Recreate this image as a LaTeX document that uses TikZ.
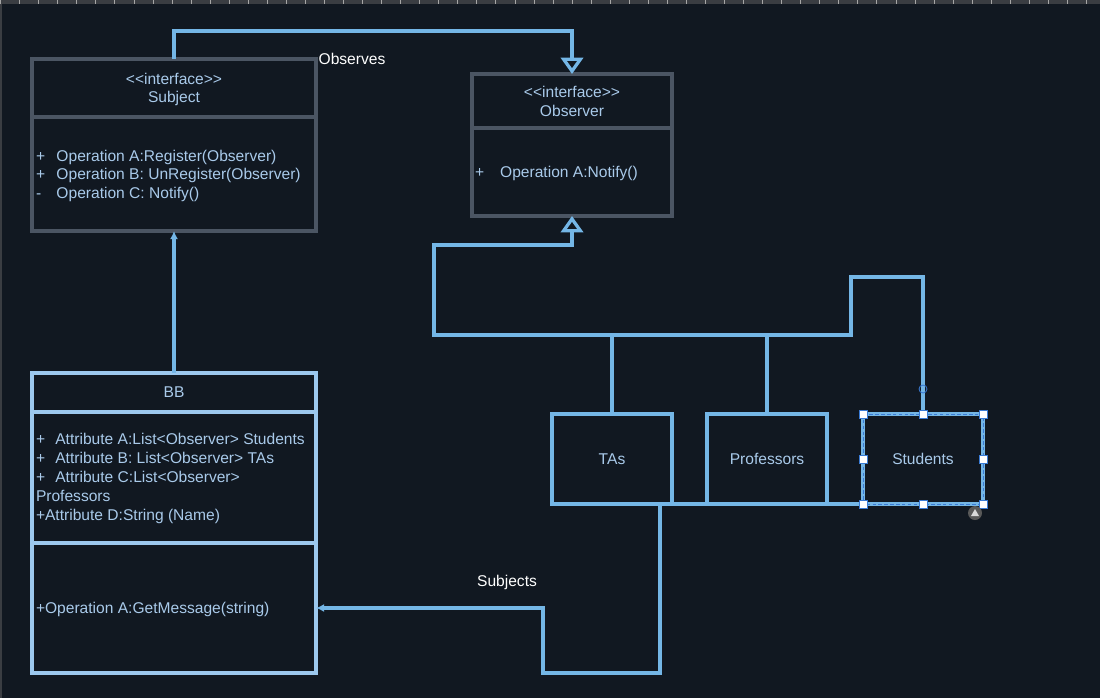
\documentclass[tikz,border=0pt]{standalone}
\usepackage{fontspec}
\setmainfont{Liberation Sans}
\usetikzlibrary{positioning,arrows.meta}
\definecolor{canvas}{HTML}{111821}
\definecolor{strip}{HTML}{3A3D42}
\definecolor{lineblue}{HTML}{74B6E6}
\definecolor{bbblue}{HTML}{9CC8EE}
\definecolor{inkblue}{HTML}{A9CAEA}
\definecolor{framegray}{HTML}{4B5563}
\definecolor{selblue}{HTML}{3A7BD5}
\newcommand\pl[2]{\makebox[#1][l]{#2}}
\newcommand\stereo{<\kern0pt<interface>\kern0pt>}

\begin{document}
\begin{tikzpicture}[x=0.03cm,y=-0.03cm,
  iface/.style={draw=framegray, line width=2.9pt, anchor=north west},
  cls/.style={draw=bbblue, line width=2.8pt, anchor=north west},
  role/.style={draw=lineblue, line width=3.2pt, anchor=north west, minimum width=3.6cm, minimum height=2.7cm},
  wire/.style={draw=lineblue, line width=3.2pt},
  hollow/.style={-{Triangle[open, length=14pt, width=19pt, line width=2.8pt]}},
  solid tip/.style={-{Latex[length=7pt, width=7pt]}},
  handle/.style={draw=selblue, fill=white, line width=0.8pt, minimum size=0.24cm}]
\tikzstyle{every node}+=[inner sep=0pt, outer sep=0pt, text=inkblue, font=\fontsize{13.3}{16}\selectfont]
\useasboundingbox (0,0) rectangle (1100,698);
\fill [canvas] (0,0) rectangle (1100,698);
\fill [strip] (0,0) rectangle (1100,4);
\fill [strip] (0,0) rectangle (2,698);
\foreach \t in {0,...,57}
  \draw [gray!70, line width=0.6pt] (19.05*\t+0.5,0) -- (19.05*\t+0.5,4);

\node [iface, minimum width=8.52cm, minimum height=5.16cm] (subj) at (32,59) {};
\draw [framegray, line width=2.9pt] (subj.north west) ++(0,58) -- ++(284,0);
\node (subjst) at (174,79) {\stereo};
\node (subjname) at (174,98) {Subject};
\node [anchor=north west, align=left, font=\fontsize{13.3}{15.8}\selectfont] (subjops) at (36,150)
  {\pl{17.5pt}{+}Operation A:Register(Observer)\\\pl{17.5pt}{+}Operation B: UnRegister(Observer)\\\pl{17.5pt}{-}Operation C: Notify()};

\node [iface, minimum width=6cm, minimum height=4.26cm] (obs) at (472,74) {};
\draw [framegray, line width=2.9pt] (obs.north west) ++(0,54) -- ++(200,0);
\node (obsst) at (572,92) {\stereo};
\node (obsname) at (572,111) {Observer};
\node [anchor=west] (obsops) at (475,173) {\pl{21.5pt}{+}Operation A:Notify()};

\node [cls, minimum width=8.52cm, minimum height=9cm] (bb) at (32,373) {};
\draw [bbblue, line width=2.8pt] (bb.north west) ++(0,39) -- ++(284,0);
\draw [bbblue, line width=2.8pt] (bb.north west) ++(0,170) -- ++(284,0);
\node (bbname) at (174,392) {BB};
\node [anchor=north west, align=left, font=\fontsize{13.3}{16.3}\selectfont] (bbattr) at (36,433)
  {\pl{16.5pt}{+}Attribute A:List<Observer> Students\\\pl{16.5pt}{+}Attribute B: List<Observer> TAs\\\pl{16.5pt}{+}Attribute C:List<Observer>\\Professors\\+Attribute D:String (Name)};
\node [anchor=west] (bbops) at (36,609) {+Operation A:GetMessage(string)};

\node [role] (tas) at (552,414) {};
\node [role] (prof) at (707,414) {};
\node [role] (stud) at (863,414) {};
\node (taslabel) at (tas.center) {TAs};
\node (proflabel) at (prof.center) {Professors};
\node (studlabel) at (stud.center) {Students};

\draw [wire, hollow] (subj.north) -- ++(0,-28) -| (obs.north);
\node [text=white] (observes) at (352,59) {Observes};
\draw [wire, solid tip] (bb.north) -- (subj.south);

\draw [wire, hollow] (stud.north) -- ++(0,-137) -| (851,335) -| (434,245) -| (obs.south);
\draw [wire] (tas.north) -- ++(0,-79);
\draw [wire] (prof.north) -- ++(0,-79);

\coordinate (turn) at (543,608);
\draw [wire, solid tip] (stud.south west) -- (660,504) -- (660,673) -| (turn) -- (turn -| bb.east);
\node [text=white] (subjects) at (507,582) {Subjects};

\draw [selblue, line width=0.7pt, dash pattern=on 3pt off 2pt] (stud.north west) rectangle (stud.south east);
\foreach \a in {north west,north,north east,east,south east,south,south west,west}
  \node [handle] at (stud.\a) {};
\draw [selblue, line width=0.7pt] (923,389) circle (4);
\fill [gray!70!black] (975,513) circle (7);
\fill [gray!30] (971,516) -- (979,516) -- (975,509) -- cycle;
\end{tikzpicture}
\end{document}
